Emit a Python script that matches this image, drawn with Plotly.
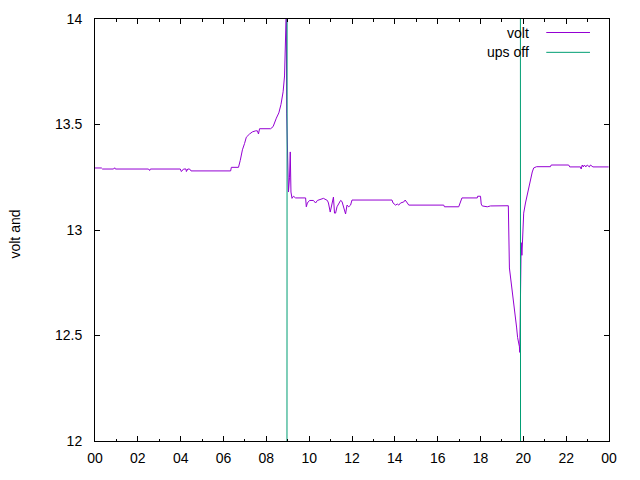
import plotly.graph_objects as go

DAY = "2024-01-01"
NEXT_DAY = "2024-01-02"

volt_times = ["00:00","00:18","00:21","00:52","00:55","00:57","02:30","02:33","02:35","03:59",
              "04:02","04:08","04:15","04:16","04:20","04:25","04:29","06:20","06:22","06:42",
              "06:47","06:53","06:59","07:04","07:13","07:21","07:30","07:35","07:38","07:41",
              "08:12","08:19","08:28","08:35","08:41","08:47","08:51","08:53","08:56","08:57",
              "09:00","09:02","09:05","09:07","09:09","09:12","09:16","09:22","09:50","09:52",
              "09:55","10:01","10:12","10:18","10:23","10:40","10:51","10:54","10:59","11:05",
              "11:08","11:11","11:14","11:18","11:23","11:28","11:32","11:37","11:42","11:46",
              "11:51","11:56","12:00","13:52","13:55","14:02","14:07","14:11","14:16","14:25",
              "14:29","14:35","14:39","16:17","16:19","16:59","17:04","17:08","17:51","17:52",
              "18:00","18:02","18:05","18:19","18:28","19:18","19:21","19:29","19:33","19:38",
              "19:41","19:44","19:49","19:50","19:52","19:54","19:56","20:01","20:06","20:11",
              "20:15","20:20","20:25","20:29","20:37","21:16","21:18","22:07","22:10","22:40",
              "22:42","22:45","22:48","22:51","22:55","22:59","23:05","23:08","23:15","23:59"]

volt_values = [13.294,13.294,13.289,13.289,13.295,13.289,13.289,13.282,13.289,13.289,
               13.277,13.289,13.289,13.277,13.289,13.289,13.280,13.280,13.297,13.297,
               13.33,13.38,13.41,13.44,13.455,13.465,13.47,13.47,13.455,13.48,
               13.48,13.49,13.53,13.555,13.595,13.655,13.73,13.87,14.05,13.55,
               13.27,13.18,13.25,13.37,13.18,13.15,13.16,13.152,13.152,13.11,
               13.128,13.14,13.14,13.128,13.14,13.15,13.14,13.128,13.085,13.14,
               13.156,13.08,13.08,13.11,13.128,13.14,13.135,13.11,13.076,13.118,
               13.11,13.118,13.142,13.142,13.128,13.118,13.123,13.118,13.128,13.133,
               13.142,13.128,13.118,13.118,13.11,13.11,13.13,13.152,13.152,13.16,
               13.16,13.123,13.114,13.11,13.114,13.115,12.82,12.716,12.67,12.60,
               12.54,12.49,12.447,12.42,12.64,12.94,12.88,13.08,13.128,13.165,
               13.20,13.246,13.275,13.294,13.30,13.30,13.308,13.308,13.299,13.299,
               13.289,13.308,13.299,13.308,13.299,13.308,13.299,13.308,13.299,13.299]

ups_times = ["00:00","08:56","08:58","09:00","19:50","19:52","19:54","23:59"]
ups_values = [0, 0, 13, 26, 26, 13, 0, 0]

x_tick_step_hours = 2
y_ticks = [12, 12.5, 13, 13.5, 14]

def stamp(t):
    return f"{DAY} {t}"

FONT = "Liberation Sans, Arial, sans-serif"

fig = go.Figure()
fig.add_trace(go.Scatter(x=[stamp(t) for t in volt_times], y=volt_values, mode="lines",
                         name="volt", line=dict(color="#9400D3", width=1)))
fig.add_trace(go.Scatter(x=[stamp(t) for t in ups_times], y=ups_values, mode="lines",
                         name="ups off", line=dict(color="#009E73", width=1)))

fig.update_layout(
    width=640, height=480,
    margin=dict(l=95, r=31, t=19, b=39),
    plot_bgcolor="white", paper_bgcolor="white",
    showlegend=False,
    font=dict(family=FONT, size=14, color="black"),
    xaxis=dict(type="date", range=[f"{DAY} 00:00", f"{NEXT_DAY} 00:00"],
               dtick=x_tick_step_hours * 3600000, tickformat="%H",
               ticks="inside", ticklen=5, tickcolor="black",
               showline=True, linecolor="black", linewidth=1, mirror="allticks",
               showgrid=False, zeroline=False, ticklabelstandoff=4,
               minor=dict(dtick=3600000, ticks="inside", ticklen=2.5, tickcolor="black", showgrid=False)),
    yaxis=dict(range=[12, 14], tickvals=y_ticks,
               ticks="inside", ticklen=5, tickcolor="black",
               showline=True, linecolor="black", linewidth=1, mirror="allticks",
               showgrid=False, zeroline=False, ticklabelstandoff=9),
)

fig.add_annotation(text="volt and", textangle=-90, xref="paper", yref="paper",
                   x=-0.155, y=0.49, showarrow=False, xanchor="center", yanchor="middle",
                   font=dict(size=14, family=FONT))

legend_items = [("volt", "#9400D3", 0.968), ("ups off", "#009E73", 0.921)]
for label, color, ypos in legend_items:
    fig.add_annotation(text=label, xref="paper", yref="paper", x=0.849, y=ypos,
                       xanchor="right", yanchor="middle", showarrow=False,
                       font=dict(size=14, family=FONT))
    fig.add_shape(type="line", xref="paper", yref="paper", x0=0.878, x1=0.963,
                  y0=ypos, y1=ypos, line=dict(color=color, width=1))

fig.write_html("out.html", config={"displayModeBar": False},
               post_script="document.body.style.margin='0';document.body.style.overflow='hidden';")
